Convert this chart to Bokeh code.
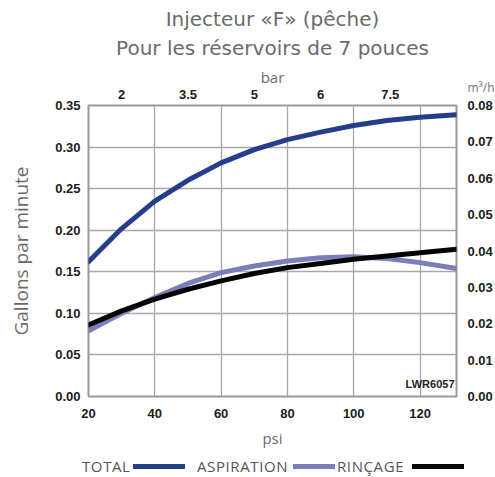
from bokeh.plotting import figure
from bokeh.layouts import column
from bokeh.models import (Range1d, LinearAxis, FixedTicker, Label, Div,
                          NumeralTickFormatter, Title)
from bokeh.embed import file_html
from bokeh.resources import INLINE

# ---- data ----
psi = [20, 30, 40, 50, 60, 70, 80, 90, 100, 110, 120, 131]
total = [0.162, 0.202, 0.235, 0.260, 0.281, 0.297, 0.309, 0.318, 0.326, 0.332, 0.336, 0.339]
aspiration = [0.079, 0.100, 0.119, 0.136, 0.149, 0.157, 0.163, 0.167, 0.168, 0.166, 0.161, 0.154]
rincage = [0.086, 0.103, 0.117, 0.129, 0.139, 0.148, 0.155, 0.160, 0.165, 0.169, 0.173, 0.177]

psi_ticks = [20, 40, 60, 80, 100, 120]
gpm_ticks = [0.00, 0.05, 0.10, 0.15, 0.20, 0.25, 0.30, 0.35]
bar_ticks_psi = [30, 50, 70, 90, 111]
bar_labels = ["2", "3.5", "5", "6", "7.5"]
m3h_ticks = [0.00, 0.01, 0.02, 0.03, 0.04, 0.05, 0.06, 0.07, 0.08]

series_names = ["TOTAL", "ASPIRATION", "RINÇAGE"]
series_colors = ["#263d8c", "#7c7eba", "#050505"]
title_lines = ["Injecteur «F» (pêche)", "Pour les réservoirs de 7 pouces"]

GRAY = "#6b6b6b"
TICK = "#1c1c1c"
W = 495

p = figure(width=W, height=455,
           x_range=Range1d(20, 131), y_range=Range1d(0, 0.35),
           output_backend="svg", toolbar_location=None,
           min_border_left=88, min_border_right=38,
           min_border_top=105, min_border_bottom=59)

p.outline_line_color = "#9a9a9a"
p.outline_line_width = 2
p.background_fill_color = "white"
p.border_fill_color = "white"

# grids
p.xgrid.ticker = FixedTicker(ticks=psi_ticks)
p.ygrid.ticker = FixedTicker(ticks=gpm_ticks)
for g in (p.xgrid, p.ygrid):
    g.grid_line_color = "#a8a8a8"
    g.grid_line_width = 1.3


def style_axis(ax):
    ax.axis_line_color = None
    ax.major_tick_line_color = None
    ax.minor_tick_line_color = None
    ax.major_tick_out = 0
    ax.major_tick_in = 0
    ax.minor_tick_out = 0
    ax.minor_tick_in = 0
    ax.major_label_text_font = "Liberation Sans"
    ax.major_label_text_font_size = "13px"
    ax.major_label_text_font_style = "bold"
    ax.major_label_text_color = TICK
    ax.axis_label_text_font = "Open Sans"
    ax.axis_label_text_font_style = "normal"
    ax.axis_label_text_color = GRAY


# bottom axis (psi)
xa = p.xaxis[0]
xa.ticker = FixedTicker(ticks=psi_ticks)
xa.axis_label = "psi"
style_axis(xa)
xa.axis_label_text_font_size = "15px"
xa.major_label_standoff = 12
xa.axis_label_standoff = 7

# left axis (gpm)
ya = p.yaxis[0]
ya.ticker = FixedTicker(ticks=gpm_ticks)
ya.formatter = NumeralTickFormatter(format="0.00")
ya.axis_label = "Gallons par minute"
style_axis(ya)
ya.axis_label_text_font_size = "19px"
ya.major_label_standoff = 8
ya.axis_label_standoff = 18

# top axis (bar)
p.extra_x_ranges = {"bar": Range1d(20, 131)}
top = LinearAxis(x_range_name="bar", ticker=FixedTicker(ticks=bar_ticks_psi),
                 major_label_overrides=dict(zip(bar_ticks_psi, bar_labels)),
                 axis_label="bar")
style_axis(top)
top.axis_label_text_font_size = "15px"
top.major_label_standoff = 7
top.axis_label_standoff = 0
p.add_layout(top, "above")

# right side: unit label (next to the frame) then the m3/h axis
p.add_layout(Label(x=11, y=309, x_units="screen", y_units="screen", text="m³/h",
                   text_font="Open Sans", text_font_size="12px", text_color="#777777",
                   text_baseline="middle"), "right")
p.extra_y_ranges = {"m3h": Range1d(0, 0.08)}
right = LinearAxis(y_range_name="m3h", ticker=FixedTicker(ticks=m3h_ticks),
                   formatter=NumeralTickFormatter(format="0.00"))
style_axis(right)
right.major_label_standoff = -16
p.add_layout(right, "right")

# title (two centred lines)
p.title.text = title_lines[0]
t2 = Title(text=title_lines[1])
for t in (p.title, t2):
    t.align = "center"
    t.text_font = "DejaVu Sans"
    t.text_font_size = "20px"
    t.text_font_style = "normal"
    t.text_color = GRAY
p.title.standoff = 0
t2.standoff = 7
p.add_layout(t2, "above")

# curves
for vals, col, name in zip([total, aspiration, rincage], series_colors, series_names):
    p.line(psi, vals, line_color=col, line_width=5, line_cap="round",
           line_join="round", name=name)

p.add_layout(Label(x=366, y=7, x_units="screen", y_units="screen", text="LWR6057",
                   text_font="Liberation Sans", text_font_size="11px", text_color="#222222",
                   text_font_style="bold", text_align="right", text_baseline="bottom"))

# ---- legend strip below the chart: each label precedes its swatch ----
label_left = [82, 197, 337]
swatch_left = [133, 293, 412]
swatch_width = [52, 42, 52]
parts = []
for name, col, lx, sx, sw in zip(series_names, series_colors, label_left, swatch_left, swatch_width):
    parts.append(f'<span style="position:absolute;left:{lx}px;top:1px;line-height:20px;">{name}</span>')
    parts.append(f'<span style="position:absolute;left:{sx}px;top:9px;width:{sw}px;height:5px;'
                 f'background:{col};"></span>')
legend_html = ('<div style="position:relative;width:495px;height:22px;font-family:\'Open Sans\';'
               'font-size:15px;color:#555555;letter-spacing:0.6px;">' + "".join(parts) + '</div>')
legend_div = Div(text=legend_html, width=W, height=22, margin=0)

layout = column(p, legend_div, spacing=0)
open("out.html", "w").write(file_html(layout, INLINE))
